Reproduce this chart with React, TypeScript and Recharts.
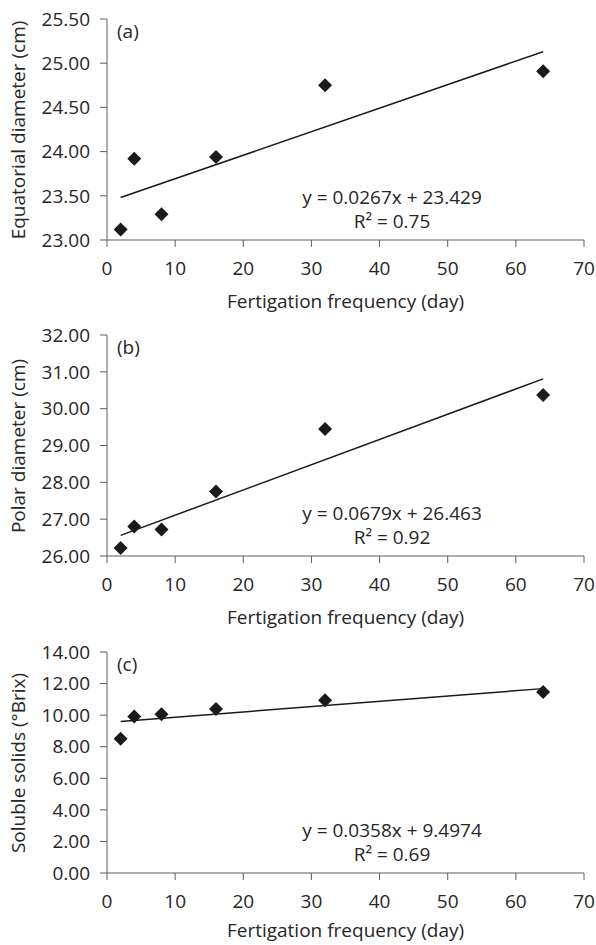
import { Scatter, ScatterChart, XAxis, YAxis } from 'recharts'

const FONT = '"Open Sans", sans-serif'
const TEXT = '#262626'
const AXIS = '#5e5e5e'
const MARK = '#1a1a1a'
const FS = 19

const FREQ = [2, 4, 8, 16, 32, 64]
const X_TICKS = [0, 10, 20, 30, 40, 50, 60, 70]
const TREND_X = [2, 64]

// (a) equatorial diameter, cm
const EQUATORIAL = [23.12, 23.92, 23.29, 23.94, 24.75, 24.91]
const TREND_EQUATORIAL = [23.48, 25.13]
const EQUATORIAL_TICKS = [23, 23.5, 24, 24.5, 25, 25.5]

// (b) polar diameter, cm
const POLAR = [26.22, 26.8, 26.72, 27.75, 29.45, 30.37]
const TREND_POLAR = [26.56, 30.81]
const POLAR_TICKS = [26, 27, 28, 29, 30, 31, 32]

// (c) soluble solids, °Brix
const SOLIDS = [8.5, 9.91, 10.06, 10.39, 10.94, 11.47]
const TREND_SOLIDS = [9.6, 11.68]
const SOLIDS_TICKS = [0, 2, 4, 6, 8, 10, 12, 14]

type Pt = { x: number; y: number }

const toPoints = (xs: number[], ys: number[]): Pt[] => xs.map((x, i) => ({ x, y: ys[i] }))

function Diamond(props: any) {
  const { cx, cy } = props
  if (cx == null || cy == null) return null
  const r = 7
  return <path d={`M${cx},${cy - r}L${cx + r},${cy}L${cx},${cy + r}L${cx - r},${cy}Z`} fill={MARK} />
}

type PanelProps = {
  letter: string
  yLabel: string
  values: number[]
  trend: number[]
  ticks: number[]
  equation: string
  r2: string
  height: number
  top: number
  labelOffset: number
}

function Panel({ letter, yLabel, values, trend, ticks, equation, r2, height, top, labelOffset }: PanelProps) {
  const points = toPoints(FREQ, values)
  const line = toPoints(TREND_X, trend)
  const tickStyle = { fontSize: FS, fill: TEXT, fontFamily: FONT }
  const textStyle = { fontFamily: FONT, fontSize: FS, color: TEXT }

  return (
    <div style={{ position: 'relative', width: 596, height }}>
      <ScatterChart width={596} height={height} margin={{ top, right: 12, bottom: 0, left: 0 }}>
        <XAxis
          type="number"
          dataKey="x"
          domain={[0, 70]}
          ticks={X_TICKS}
          height={height - top - 221}
          tickSize={7}
          tickMargin={15}
          stroke={AXIS}
          tick={tickStyle}
          label={{
            value: 'Fertigation frequency (day)',
            position: 'insideBottom',
            offset: labelOffset,
            style: { fontSize: FS, fill: TEXT, fontFamily: FONT },
          }}
        />
        <YAxis
          type="number"
          dataKey="y"
          domain={[ticks[0], ticks[ticks.length - 1]]}
          ticks={ticks}
          width={107}
          tickSize={7}
          tickMargin={10}
          stroke={AXIS}
          tick={tickStyle}
          tickFormatter={(v: number) => v.toFixed(2)}
        />
        <Scatter
          data={line}
          line={{ stroke: MARK, strokeWidth: 1.5 }}
          shape={() => <g />}
          isAnimationActive={false}
        />
        <Scatter data={points} shape={Diamond} isAnimationActive={false} />
      </ScatterChart>

      <div
        style={{
          ...textStyle,
          position: 'absolute',
          left: 18,
          top: top + 111,
          transform: 'translate(-50%, -50%) rotate(-90deg)',
          whiteSpace: 'nowrap',
        }}
      >
        {yLabel}
      </div>
      <div style={{ ...textStyle, position: 'absolute', left: 117, top: top, lineHeight: '24px' }}>
        {letter}
      </div>
      <div
        style={{
          ...textStyle,
          position: 'absolute',
          left: 272,
          width: 240,
          top: top + 166,
          textAlign: 'center',
          lineHeight: '24px',
        }}
      >
        <div>{equation}</div>
        <div>{r2}</div>
      </div>
    </div>
  )
}

export default function App() {
  return (
    <div style={{ position: 'absolute', left: 0, top: 0, width: 596, height: 945, background: '#fff' }}>
      <Panel
        letter="(a)"
        yLabel="Equatorial diameter (cm)"
        values={EQUATORIAL}
        trend={TREND_EQUATORIAL}
        ticks={EQUATORIAL_TICKS}
        equation="y = 0.0267x + 23.429"
        r2="R² = 0.75"
        height={316}
        top={19}
        labelOffset={8}
      />
      <Panel
        letter="(b)"
        yLabel="Polar diameter (cm)"
        values={POLAR}
        trend={TREND_POLAR}
        ticks={POLAR_TICKS}
        equation="y = 0.0679x + 26.463"
        r2="R² = 0.92"
        height={316}
        top={19}
        labelOffset={8}
      />
      <Panel
        letter="(c)"
        yLabel="Soluble solids (°Brix)"
        values={SOLIDS}
        trend={TREND_SOLIDS}
        ticks={SOLIDS_TICKS}
        equation="y = 0.0358x + 9.4974"
        r2="R² = 0.69"
        height={313}
        top={20}
        labelOffset={8}
      />
    </div>
  )
}
